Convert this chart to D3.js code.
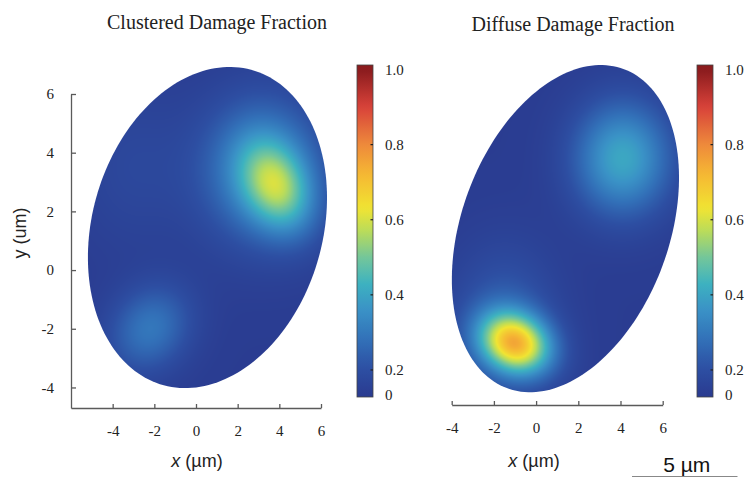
<!DOCTYPE html>
<html><head><meta charset="utf-8">
<script src="https://cdn.jsdelivr.net/npm/d3@7"></script>
<style>body{margin:0;background:#fff} svg{display:block}</style>
</head><body>
<svg id="chart" width="753" height="477"></svg>
<script>
// ---------------- data ----------------
const titles = ["Clustered Damage Fraction", "Diffuse Damage Fraction"];
const xTicksLeft = [-4, -2, 0, 2, 4, 6];
const xTicksRight = [-4, -2, 0, 2, 4, 6];
const yTicks = [-4, -2, 0, 2, 4, 6];
const cbTickValues = [0.135, 0.2, 0.4, 0.6, 0.8, 1.0];
const cbTickLabels = ["0", "0.2", "0.4", "0.6", "0.8", "1.0"];
const cbMarkValues = [0.2, 0.4, 0.6, 0.8];
const colorStops = [0.13, 0.2, 0.28, 0.36, 0.43, 0.5, 0.57, 0.63, 0.72, 0.8, 0.9, 1.0];
const colorHex = ["#2a3b90", "#2d4ea2", "#3270b8", "#3a92c6", "#3db2c0", "#74c69a", "#badc5a", "#f1e432", "#f5b833", "#ee8a3b", "#d8423a", "#8a1b1d"];
// cell shape (µm): [centerX, centerY, semi-major, semi-minor, angle deg]
const cellLeft = [0.55, 1.45, 6.12, 5.04, 37.8];
const cellRight = [1.39, 1.31, 6.28, 4.54, 48.2];
// background fraction and hot spots: [x µm, y µm, amplitude, sigmaX µm, sigmaY µm, angle deg]
const baseLeft = 0.135;
const hotspotsLeft = [[3.2,3.4,0.22,2.0,1.7,0],[3.9,2.8,0.27,1.3,0.95,-35],[-2.2,-2.0,0.16,1.4,1.0,15],[-3.0,3.5,0.04,2.0,2.0,0]];
const baseRight = 0.135;
const hotspotsRight = [[-1.0,-2.6,0.53,1.2,0.72,-10],[-1.5,-1.8,0.10,1.7,1.7,0],[4.1,3.7,0.27,1.6,1.35,0]];

// ---------------- layout ----------------
const svg = d3.select("#chart");
const serif = "'Liberation Serif','Times New Roman',serif";
const sans = "'Liberation Sans',Arial,sans-serif";
const axisColor = "#5a5a5a";

const color = d3.scaleLinear().domain(colorStops).range(colorHex).interpolate(d3.interpolateRgb).clamp(true);

const panels = [
  {title: titles[0], tx: 217, ty: 29, x: d3.scaleLinear([-6, 6], [71, 321]), y: d3.scaleLinear([-4.7, 6], [408, 94]),
   xTicks: xTicksLeft, cell: cellLeft, base: baseLeft, spots: hotspotsLeft, yAxis: true, cbX: 357, xLabelX: 197},
  {title: titles[1], tx: 573, ty: 31, x: d3.scaleLinear([-4, 6], [451.7, 662.7]), y: d3.scaleLinear([-4.7, 6], [405, 91]),
   xTicks: xTicksRight, cell: cellRight, base: baseRight, spots: hotspotsRight, yAxis: false, cbX: 697, xLabelX: 534}
];

function field(p, xv, yv) {
  let v = p.base;
  for (const s of p.spots) {
    const a = s[5] * Math.PI / 180, c = Math.cos(a), sn = Math.sin(a);
    const dx = xv - s[0], dy = yv - s[1];
    const u = dx * c + dy * sn, w = -dx * sn + dy * c;
    v += s[2] * Math.exp(-0.5 * (u * u / (s[3] * s[3]) + w * w / (s[4] * s[4])));
  }
  return v;
}

function cellPath(p) {
  const [cx, cy, a, b, ang] = p.cell;
  const th = ang * Math.PI / 180;
  return d3.range(0, 2 * Math.PI, Math.PI / 90).map(t => {
    const u = a * Math.cos(t), v = b * Math.sin(t);
    return [cx + u * Math.cos(th) - v * Math.sin(th), cy + u * Math.sin(th) + v * Math.cos(th)];
  });
}

const defs = svg.append("defs");
const cbScale = d3.scaleLinear([0.128, 1.012], [397, 65]);
const grad = defs.append("linearGradient").attr("id", "cbgrad")
  .attr("x1", 0).attr("y1", 1).attr("x2", 0).attr("y2", 0);
d3.range(0, 1.0001, 0.02).forEach(t => {
  const v = cbScale.domain()[0] + t * (cbScale.domain()[1] - cbScale.domain()[0]);
  grad.append("stop").attr("offset", t).attr("stop-color", color(v));
});

panels.forEach((p, i) => {
  const pts = cellPath(p);
  const line = d3.line().x(d => p.x(d[0])).y(d => p.y(d[1])).curve(d3.curveLinearClosed);
  defs.append("clipPath").attr("id", "clip" + i).append("path").attr("d", line(pts));

  // heat image
  const xs = pts.map(d => p.x(d[0])), ys = pts.map(d => p.y(d[1]));
  const x0 = Math.floor(d3.min(xs)) - 3, x1 = Math.ceil(d3.max(xs)) + 3;
  const y0 = Math.floor(d3.min(ys)) - 3, y1 = Math.ceil(d3.max(ys)) + 3;
  const W = x1 - x0, H = y1 - y0;
  const canvas = document.createElement("canvas");
  canvas.width = W; canvas.height = H;
  const ctx = canvas.getContext("2d");
  const img = ctx.createImageData(W, H);
  for (let r = 0; r < H; r++) {
    const yv = p.y.invert(y0 + r + 0.5);
    for (let c = 0; c < W; c++) {
      const xv = p.x.invert(x0 + c + 0.5);
      const col = d3.rgb(color(field(p, xv, yv)));
      const k = (r * W + c) * 4;
      img.data[k] = col.r; img.data[k + 1] = col.g; img.data[k + 2] = col.b; img.data[k + 3] = 255;
    }
  }
  ctx.putImageData(img, 0, 0);
  svg.append("image").attr("href", canvas.toDataURL()).attr("x", x0).attr("y", y0)
    .attr("width", W).attr("height", H).attr("clip-path", `url(#clip${i})`);

  // title
  svg.append("text").attr("x", p.tx).attr("y", p.ty).attr("text-anchor", "middle")
    .style("font-family", serif).style("font-size", "20px").style("fill", "#222").text(p.title);

  // x axis
  const gx = svg.append("g").attr("transform", `translate(0,${p.y.range()[0]})`)
    .call(d3.axisBottom(p.x).tickValues(p.xTicks).tickSizeInner(-4).tickSizeOuter(0).tickPadding(17));
  gx.select(".domain").attr("stroke", axisColor).attr("stroke-width", 1.3);
  gx.selectAll(".tick line").attr("stroke", axisColor).attr("stroke-width", 1.3);
  gx.selectAll(".tick text").style("font-family", serif).style("font-size", "15px").style("fill", "#222")
    .text(d => d < 0 ? "-" + Math.abs(d) : d);

  svg.append("text").attr("x", p.xLabelX).attr("y", 467).attr("text-anchor", "middle")
    .style("font-family", sans).style("font-size", "18px").style("fill", "#222")
    .call(t => { t.append("tspan").style("font-style", "italic").text("x"); t.append("tspan").text(" (µm)"); });

  if (p.yAxis) {
    const gy = svg.append("g").attr("transform", `translate(${p.x.range()[0]},0)`)
      .call(d3.axisLeft(p.y).tickValues(yTicks).tickSizeInner(-5).tickSizeOuter(0).tickPadding(17));
    gy.select(".domain").attr("stroke", axisColor).attr("stroke-width", 1.3);
    gy.selectAll(".tick line").attr("stroke", axisColor).attr("stroke-width", 1.3);
    gy.selectAll(".tick text").style("font-family", serif).style("font-size", "15px").style("fill", "#222")
      .text(d => d < 0 ? "-" + Math.abs(d) : d);
    svg.append("text").attr("transform", "translate(26,233) rotate(-90)").attr("text-anchor", "middle")
      .style("font-family", sans).style("font-size", "18px").style("fill", "#222").text("y (um)");
  }

  // colorbar
  const cb = svg.append("g");
  cb.append("rect").attr("x", p.cbX).attr("y", cbScale.range()[1]).attr("width", 16)
    .attr("height", cbScale.range()[0] - cbScale.range()[1]).attr("fill", "url(#cbgrad)")
    .attr("stroke", "#444").attr("stroke-width", 0.8);
  cb.selectAll(".mk").data(cbMarkValues).join("line")
    .attr("x1", p.cbX + 13.5).attr("x2", p.cbX + 16).attr("y1", d => cbScale(d)).attr("y2", d => cbScale(d))
    .attr("stroke", "#222").attr("stroke-width", 1.2);
  cb.selectAll(".lb").data(cbTickValues).join("text")
    .attr("x", p.cbX + 28).attr("y", d => cbScale(d)).attr("dy", "0.35em")
    .style("font-family", serif).style("font-size", "15px").style("fill", "#222")
    .text((d, j) => cbTickLabels[j]);
});

// scale bar
const pr = panels[1];
const sbLen = pr.x(5) - pr.x(0);
svg.append("line").attr("x1", 632).attr("x2", 632 + sbLen).attr("y1", 476.5).attr("y2", 476.5)
  .attr("stroke", "#888").attr("stroke-width", 1);
svg.append("text").attr("x", 632 + sbLen / 2 + 2).attr("y", 472).attr("text-anchor", "middle")
  .style("font-family", sans).style("font-size", "21px").style("fill", "#111").text("5 µm");
</script>
</body></html>
